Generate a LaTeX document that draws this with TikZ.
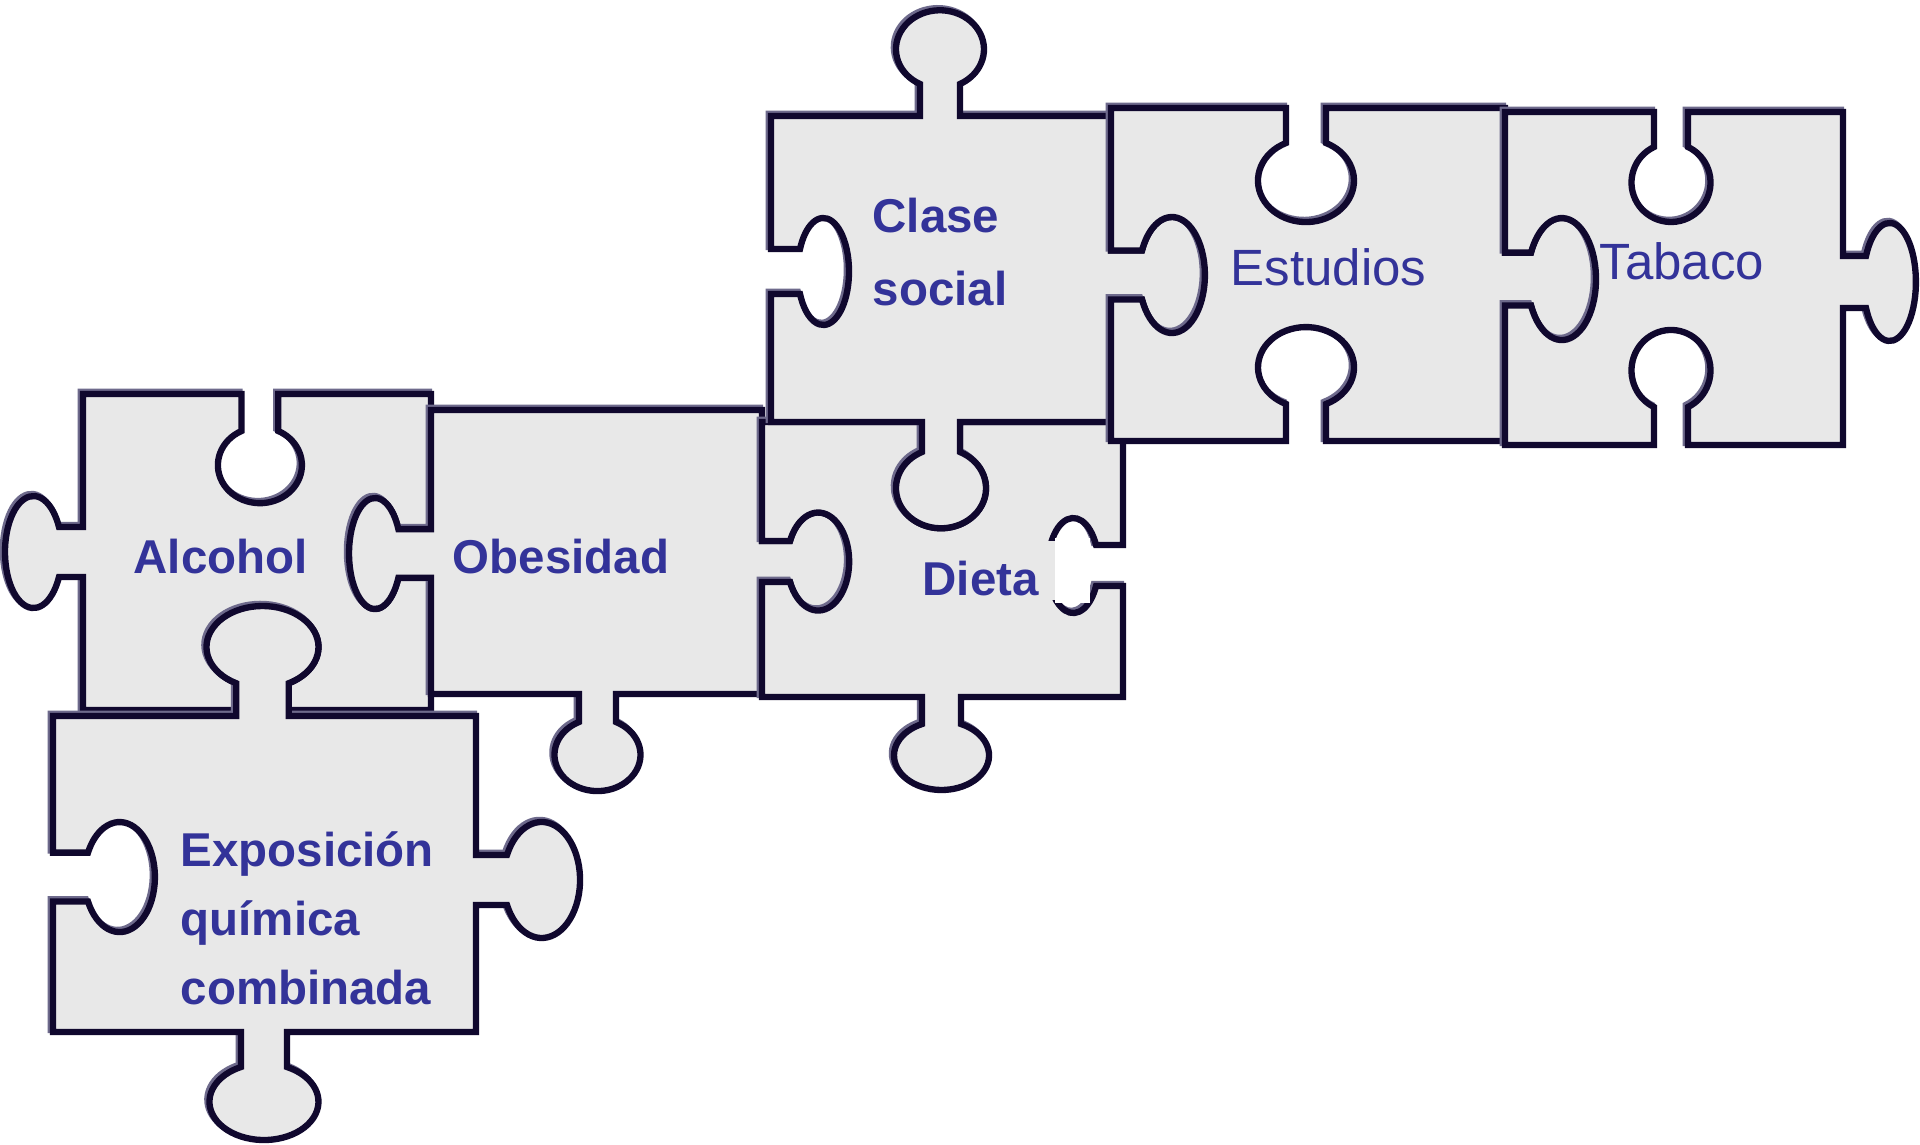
\documentclass[tikz,border=0pt]{standalone}
\usepackage{fontspec}
\setmainfont{Liberation Sans}
\usepackage{xcolor}
\definecolor{piecegray}{HTML}{E8E8E8}
\definecolor{edgenavy}{HTML}{10082E}
\definecolor{edgeshade}{HTML}{6E6A8C}
\definecolor{wordblue}{HTML}{333399}

\begin{document}
\begin{tikzpicture}[
    x=0.01cm, y=-0.01cm,
    piece/.style={
      fill=piecegray, draw=edgenavy, line width=1.8pt,
      preaction={draw=edgeshade, line width=1.8pt,
        transform canvas={shift={(-0.6pt,0.6pt)}}},
    },
    boldword/.style={
      font=\fontsize{13.5}{20.8}\selectfont\bfseries, text=wordblue,
      inner sep=0pt, align=left,
    },
    plainword/.style={
      font=\fontsize{14.5}{17}\selectfont, text=wordblue, inner sep=0pt,
    },
  ]

  % Canvas: 1920 x 1144 px, y grows downwards
  \useasboundingbox (0,0) rectangle (1920,1144);
  \fill[white] (0,0) rectangle (1920,1144);

  % =================== Alcohol ===================
  \draw[piece] (83,394) -| (241.5,431)
    arc[start angle=244, end angle=-64, x radius=42, y radius=38]
    |- (431,394) |- (398.4,529.2)
    arc[start angle=-26, end angle=-334, x radius=26, y radius=55.5]
    -| (431,710) -| (288.8,683.2)
    arc[start angle=62, end angle=-242, x radius=56, y radius=41]
    |- (83,710) |- (59,577)
    arc[start angle=26.5, end angle=333.5, x radius=28.5, y radius=56]
    -| (83,394) -- cycle;

  % =================== Obesidad ===================
  \draw[piece] (431,410) -- (762,410) |- (790,541)
    arc[start angle=204.7, end angle=515.3, x radius=31, y radius=49]
    -| (762,694) -| (616,722)
    arc[start angle=-64.5, end angle=244.5, x radius=43, y radius=36.3]
    |- (431,694) |- (398.4,577.8)
    arc[start angle=26, end angle=334, x radius=26, y radius=55.5]
    -| (431,410) -- cycle;

  % =================== Exposicion quimica ===================
  \draw[piece] (53,716) -| (236.2,683.2)
    arc[start angle=118, end angle=422, x radius=56, y radius=41]
    |- (476,716) |- (507,855)
    arc[start angle=205.5, end angle=514.5, x radius=38.4, y radius=58]
    -| (476,1032) -| (287,1067)
    arc[start angle=-65, end angle=245, x radius=54.5, y radius=38.3]
    |- (53,1032) |- (88,901.5)
    arc[start angle=153.6, end angle=-153.6, x radius=35.3, y radius=55]
    -| (53,716) -- cycle;

  % =================== Dieta ===================
  \draw[piece] (762,422) -| (922,452)
    arc[start angle=245, end angle=-65, x radius=45, y radius=40]
    |- (1123,422) |- (1096,545)
    arc[start angle=-25.6, end angle=-334.4, x radius=25.2, y radius=47.5]
    -| (1123,697) -| (961,724)
    arc[start angle=-65.8, end angle=245.8, x radius=47.5, y radius=34.5]
    |- (762,697) |- (790,582)
    arc[start angle=155.3, end angle=-155.3, x radius=31, y radius=49]
    -| (762,422) -- cycle;
  % patch cutting the right slot
  \fill[piecegray] (1040,541) rectangle (1055,600);
  \fill[white] (1055,538) rectangle (1090,603);

  % =================== Clase social ===================
  \draw[piece] (771,116) -| (920,84)
    arc[start angle=117, end angle=423, x radius=44, y radius=39]
    |- (1111,116) |- (1142,250.5)
    arc[start angle=205, end angle=515, x radius=33, y radius=58]
    -| (1111,422) -| (960,452)
    arc[start angle=-65, end angle=245, x radius=45, y radius=40]
    |- (771,422) |- (800,294)
    arc[start angle=155.1, end angle=-155.1, x radius=25.7, y radius=53.5]
    -| (771,116) -- cycle;

  % =================== Estudios ===================
  \draw[piece] (1111,108) -| (1286,143)
    arc[start angle=245.4, end angle=-65.4, x radius=48, y radius=41.4]
    |- (1505,108) |- (1531,252.5)
    arc[start angle=205.7, end angle=514.3, x radius=34.2, y radius=61]
    -| (1505,441) -| (1326,404)
    arc[start angle=65.4, end angle=-245.4, x radius=48, y radius=40.3]
    |- (1111,441) |- (1142,299.5)
    arc[start angle=155, end angle=-155, x radius=33, y radius=58]
    -| (1111,108) -- cycle;

  % =================== Tabaco ===================
  \draw[piece] (1505,112) -| (1654,147)
    arc[start angle=244.5, end angle=-64.5, x radius=39.5, y radius=39.4]
    |- (1843,112) |- (1866,256)
    arc[start angle=206.1, end angle=513.9, x radius=26.3, y radius=59]
    -| (1843,445) -| (1688,407)
    arc[start angle=64.5, end angle=-244.5, x radius=39.5, y radius=40.5]
    |- (1505,445) |- (1531,305.5)
    arc[start angle=154.3, end angle=-154.3, x radius=34.2, y radius=61]
    -| (1505,112) -- cycle;

  % Labels
  \node[boldword, anchor=base west] (alcohol) at (133,573) {Alcohol};
  \node[boldword, anchor=base west] (obesidad) at (452,573) {Obesidad};
  \node[boldword, anchor=base west] (dieta) at (922,595) {Dieta};
  \node[boldword, anchor=north west] (clase) at (872,197) {Clase\\social};
  \node[boldword, anchor=north west, font=\fontsize{13.5}{19.6}\selectfont\bfseries]
    (exposicion) at (180,831) {Exposición\\química\\combinada};
  \node[plainword, anchor=base west] (estudios) at (1230,285) {Estudios};
  \node[plainword, anchor=base west] (tabaco) at (1599,279) {Tabaco};

\end{tikzpicture}
\end{document}
